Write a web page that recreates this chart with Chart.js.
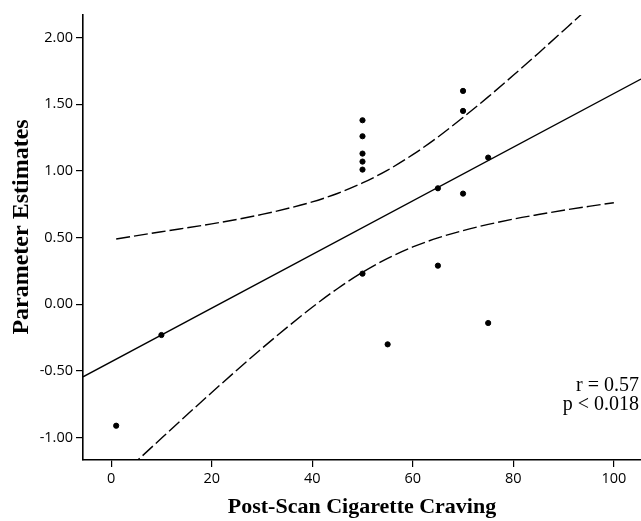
<!DOCTYPE html>
<html>
<head>
<meta charset="utf-8">
<style>
  html, body { margin: 0; padding: 0; background: #fff; }
  #wrap { width: 641px; height: 521px; position: relative; }
</style>
<script src="https://cdn.jsdelivr.net/npm/chart.js@4/dist/chart.umd.min.js"></script>
</head>
<body>
<div id="wrap"><canvas id="c" width="641" height="521"></canvas></div>
<script>
// Observed points
const craving   = [1, 10, 50, 50, 50, 50, 50, 50, 55, 65, 65, 70, 70, 70, 75, 75];
const estimates = [-0.91, -0.23, 1.38, 1.26, 1.13, 1.07, 1.01, 0.23, -0.30, 0.87, 0.29, 1.60, 1.45, 0.83, 1.10, -0.14];

// Fit line (read at the plot edges)
const fitX = [-5.6, 105.4];
const fitY = [-0.543, 1.689];

// Confidence band
const bandX     = [1, 10, 20, 30, 40, 45, 50, 55, 60, 65, 70, 75, 80, 85, 90, 95, 100];
const bandUpper = [0.490, 0.544, 0.603, 0.674, 0.768, 0.831, 0.910, 1.006, 1.122, 1.254, 1.401, 1.555, 1.717, 1.883, 2.053, 2.224, 2.398];
const bandLower = [-1.318, -1.004, -0.661, -0.330, -0.022, 0.117, 0.240, 0.344, 0.430, 0.498, 0.553, 0.599, 0.639, 0.673, 0.705, 0.734, 0.762];

// Tick labels
const xTicks = [0, 20, 40, 60, 80, 100];
const yTicks = [-1.00, -0.50, 0.00, 0.50, 1.00, 1.50, 2.00];

const xTitle = 'Post-Scan Cigarette Craving';
const yTitle = 'Parameter Estimates';
const statLines = ['r = 0.57', 'p < 0.018'];

const zip = (xs, ys) => xs.map((x, i) => ({ x: x, y: ys[i] }));

const textPlugin = {
  id: 'texts',
  afterDraw(chart) {
    const ctx = chart.ctx;
    ctx.save();
    ctx.fillStyle = '#000';
    ctx.font = '20px "Liberation Serif", "Times New Roman", serif';
    ctx.textAlign = 'right';
    ctx.textBaseline = 'alphabetic';
    ctx.fillText(statLines[0], 639, 391);
    ctx.fillText(statLines[1], 639, 410);
    // y-axis title
    ctx.translate(22, 227);
    ctx.rotate(-Math.PI / 2);
    ctx.font = 'bold 24px "Liberation Serif", "Times New Roman", serif';
    ctx.textAlign = 'center';
    ctx.textBaseline = 'middle';
    ctx.fillText(yTitle, 0, 0);
    ctx.restore();
  }
};

const tickFont = { family: '"Open Sans", sans-serif', size: 14.5 };
const titleFont = { family: '"Liberation Serif", "Times New Roman", serif', size: 22, weight: 'bold' };

new Chart(document.getElementById('c'), {
  type: 'scatter',
  data: {
    datasets: [
      {
        label: 'points',
        data: zip(craving, estimates),
        backgroundColor: '#000',
        borderColor: '#000',
        pointRadius: 2.6,
        pointHoverRadius: 2.6,
        showLine: false,
        order: 0
      },
      {
        label: 'fit',
        data: zip(fitX, fitY),
        showLine: true,
        borderColor: '#000',
        borderWidth: 1.4,
        pointRadius: 0,
        fill: false,
        order: 1
      },
      {
        label: 'upper',
        data: zip(bandX, bandUpper),
        showLine: true,
        borderColor: '#000',
        borderWidth: 1.4,
        borderDash: [14, 4],
        pointRadius: 0,
        cubicInterpolationMode: 'monotone',
        fill: false,
        order: 2
      },
      {
        label: 'lower',
        data: zip(bandX, bandLower),
        showLine: true,
        borderColor: '#000',
        borderWidth: 1.4,
        borderDash: [14, 4],
        pointRadius: 0,
        cubicInterpolationMode: 'monotone',
        fill: false,
        order: 3
      }
    ]
  },
  options: {
    responsive: false,
    animation: false,
    devicePixelRatio: 1,
    layout: { autoPadding: false, padding: { top: 15, right: 0, left: 0, bottom: 0 } },
    plugins: {
      legend: { display: false },
      tooltip: { enabled: false }
    },
    scales: {
      x: {
        type: 'linear',
        min: -5.6,
        max: 105.4,
        afterBuildTicks(scale) { scale.ticks = xTicks.map(v => ({ value: v })); },
        afterFit(scale) { scale.height = 61; },
        grid: { display: true, drawOnChartArea: false, drawTicks: true, tickLength: 7, color: '#000', lineWidth: 1.2 },
        border: { display: true, color: '#000', width: 1.6 },
        ticks: { color: '#000', font: tickFont, padding: 3, maxRotation: 0, callback: v => String(v) },
        title: { display: true, text: xTitle, color: '#000', font: titleFont, padding: { top: 2, bottom: 0 } }
      },
      y: {
        type: 'linear',
        min: -1.167,
        max: 2.169,
        afterBuildTicks(scale) { scale.ticks = yTicks.map(v => ({ value: v })); },
        afterFit(scale) { scale.width = 83; },
        grid: { display: true, drawOnChartArea: false, drawTicks: true, tickLength: 7, color: '#000', lineWidth: 1.2 },
        border: { display: true, color: '#000', width: 1.6 },
        ticks: { color: '#000', font: tickFont, padding: 3, callback: v => Number(v).toFixed(2) },
        title: { display: false }
      }
    }
  },
  plugins: [textPlugin]
});
</script>
</body>
</html>
